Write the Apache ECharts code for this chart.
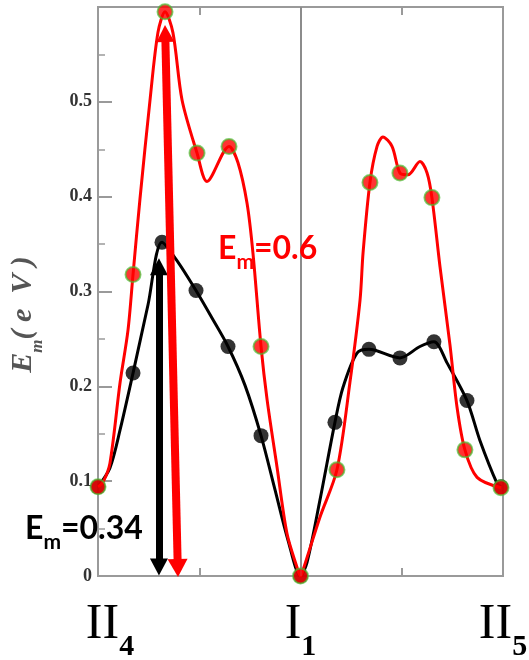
<!DOCTYPE html>
<html>
<head>
<meta charset="utf-8">
<script src="https://cdn.jsdelivr.net/npm/echarts@6/dist/echarts.min.js"></script>
<style>html,body{margin:0;padding:0;background:#fff}#c{width:529px;height:660px}</style>
</head>
<body>
<div id="c"></div>
<script>
// x positions: 0 = II4, 1 = I1, 2 = II5
const xTickLabels = ['II', 'I', 'II'];
const xTickSubs = ['4', '1', '5'];
const yTicks = [0, 0.1, 0.2, 0.3, 0.4, 0.5];

// marker points
const redMarkers = [[0,0.094],[0.173,0.318],[0.331,0.595],[0.489,0.446],[0.647,0.453],[0.805,0.242],[1,0],[1.180,0.112],[1.343,0.415],[1.491,0.425],[1.649,0.399],[1.812,0.133],[1.99,0.093]];
const blackMarkers = [[0,0.094],[0.173,0.214],[0.316,0.352],[0.484,0.301],[0.642,0.242],[0.805,0.148],[1,0],[1.170,0.162],[1.338,0.239],[1.491,0.230],[1.659,0.247],[1.822,0.185],[1.99,0.094]];

// traced curves
const redCurve = [[0,0.094],[0.025,0.099],[0.059,0.119],[0.109,0.204],[0.148,0.259],[0.173,0.318],[0.207,0.397],[0.257,0.502],[0.296,0.573],[0.331,0.595],[0.370,0.573],[0.415,0.502],[0.489,0.446],[0.538,0.416],[0.647,0.453],[0.691,0.436],[0.736,0.393],[0.765,0.341],[0.805,0.242],[0.835,0.186],[0.884,0.115],[0.933,0.045],[0.983,0.009],[1,0],[1.012,0.006],[1.096,0.062],[1.180,0.112],[1.244,0.204],[1.294,0.291],[1.309,0.341],[1.343,0.415],[1.378,0.453],[1.407,0.463],[1.452,0.453],[1.491,0.425],[1.531,0.423],[1.590,0.437],[1.625,0.425],[1.649,0.399],[1.689,0.326],[1.738,0.244],[1.773,0.178],[1.812,0.133],[1.872,0.104],[1.99,0.093]];
const blackCurve = [[0,0.094],[0.059,0.114],[0.109,0.154],[0.173,0.214],[0.247,0.286],[0.316,0.352],[0.395,0.331],[0.484,0.301],[0.563,0.272],[0.642,0.242],[0.726,0.201],[0.805,0.148],[0.874,0.091],[0.938,0.038],[1,0],[1.032,0.014],[1.096,0.080],[1.170,0.162],[1.210,0.199],[1.279,0.235],[1.338,0.239],[1.491,0.230],[1.590,0.242],[1.659,0.247],[1.723,0.225],[1.822,0.185],[1.886,0.143],[1.970,0.098],[1.99,0.094]];

// barrier arrows (data coords)
const blackArrow = [[0.301,0.0095],[0.301,0.326]];
const redArrow = [[0.394,0.0084],[0.332,0.572]];

const chart = echarts.init(document.getElementById('c'));
const axisGray = '#9a9a9a';
const serif = '"Liberation Serif","DejaVu Serif",serif';
const sans = 'Lato, "Liberation Sans", sans-serif';

chart.setOption({
  animation: false,
  backgroundColor: '#fff',
  grid: {left: 98, right: 26, top: 7, bottom: 84, show: true, borderColor: axisGray, borderWidth: 2, containLabel: false, outerBoundsMode: 'none'},
  xAxis: [{
    type: 'value', min: 0, max: 2, interval: 0.5, position: 'bottom',
    axisLine: {show: true, lineStyle: {color: axisGray, width: 2}},
    axisTick: {show: true, inside: true, length: 8, lineStyle: {color: axisGray, width: 2}},
    splitLine: {show: false},
    axisLabel: {
      margin: 24,
      formatter: function (v) {
        const i = Math.round(v);
        if (Math.abs(v - i) > 1e-6) return '';
        const pre = i === 0 ? '{p|}' : '';
        return pre + '{a|' + xTickLabels[i] + '}{s|' + xTickSubs[i] + '}';
      },
      rich: {
        p: {width: 24},
        a: {fontFamily: serif, fontSize: 50, color: '#000', lineHeight: 50, verticalAlign: 'top'},
        s: {fontFamily: serif, fontSize: 30, color: '#000', fontWeight: 'bold', lineHeight: 30, verticalAlign: 'bottom', padding: [0,0,-12,0]}
      }
    }
  }, {
    type: 'value', min: 0, max: 2, interval: 0.5, position: 'top',
    axisLine: {show: true, lineStyle: {color: axisGray, width: 2}},
    axisTick: {show: true, inside: true, length: 8, lineStyle: {color: axisGray, width: 2}},
    axisLabel: {show: false}, splitLine: {show: false}
  }],
  yAxis: {
    type: 'value', min: 0, max: 0.6, interval: 0.1,
    axisLine: {show: true, lineStyle: {color: axisGray, width: 2}},
    axisTick: {show: true, inside: true, length: 14, lineStyle: {color: axisGray, width: 2}},
    minorTick: {show: true, splitNumber: 2, length: 7, lineStyle: {color: axisGray, width: 1.5}},
    splitLine: {show: false},
    axisLabel: {
      margin: 6,
      fontFamily: serif, fontWeight: 'bold', fontSize: 18, color: '#333',
      formatter: function (v) {
        const t = yTicks.find(function (y) { return Math.abs(y - v) < 1e-6; });
        if (t === undefined) return '';
        return t === 0 ? '0' : t.toFixed(1);
      }
    },
    name: '{a|E}{s|m}{a|( e  V )}{q|}',
    nameLocation: 'middle', nameGap: 60, nameRotate: 90,
    nameTextStyle: {
      rich: {
        a: {fontFamily: serif, fontWeight: 'bold', fontStyle: 'italic', fontSize: 30, color: '#555'},
        s: {fontFamily: serif, fontWeight: 'bold', fontStyle: 'italic', fontSize: 17, color: '#555', verticalAlign: 'bottom', padding: [0,0,-8,0]},
        q: {width: 46}
      }
    }
  },
  series: [
    {
      type: 'line', data: blackCurve, smooth: 0.3, showSymbol: false, symbol: 'none',
      lineStyle: {color: '#000', width: 3}, z: 2,
      markLine: {
        silent: true, symbol: 'none', label: {show: false},
        lineStyle: {color: '#8c8c8c', width: 2, type: 'solid'},
        data: [{xAxis: 1}]
      }
    },
    {
      type: 'scatter', data: blackMarkers, symbolSize: 15,
      itemStyle: {color: '#000'}, z: 3
    },
    {
      type: 'line', data: redCurve, smooth: 0.3, showSymbol: false, symbol: 'none',
      lineStyle: {color: '#ff0000', width: 3}, z: 4
    },
    {
      type: 'scatter', data: redMarkers, symbolSize: 15, clip: false,
      itemStyle: {color: '#ff0000', borderColor: 'rgba(70,190,50,0.85)', borderWidth: 2}, z: 5
    },
    {
      type: 'line', data: [], clip: false, z: 6,
      markLine: {
        silent: true, label: {show: false}, symbol: ['triangle', 'triangle'], symbolSize: [18, 17],
        lineStyle: {type: 'solid'},
        data: [
          [{coord: blackArrow[0], lineStyle: {color: '#000', width: 7, type: 'solid'}, itemStyle: {color: '#000'}, symbolSize: [18, 17]},
           {coord: blackArrow[1]}],
          [{coord: redArrow[0], lineStyle: {color: '#ff0000', width: 8, type: 'solid'}, itemStyle: {color: '#ff0000'}, symbolSize: [20, 18]},
           {coord: redArrow[1]}]
        ]
      }
    }
  ],
  graphic: [
    {
      type: 'text', left: 218, top: 233, z: 100,
      style: {
        text: '{a|E}{s|m}{a|=0.6}',
        rich: {
          a: {fontFamily: sans, fontWeight: 'bold', fontSize: 32, fill: '#ff0000'},
          s: {fontFamily: sans, fontWeight: 'bold', fontSize: 21, fill: '#ff0000', verticalAlign: 'bottom', padding: [0,0,-8,0]}
        }
      }
    },
    {
      type: 'text', left: 25, top: 513, z: 100,
      style: {
        text: '{a|E}{s|m}{a|=0.34}',
        rich: {
          a: {fontFamily: sans, fontWeight: 'bold', fontSize: 32, fill: '#000'},
          s: {fontFamily: sans, fontWeight: 'bold', fontSize: 21, fill: '#000', verticalAlign: 'bottom', padding: [0,0,-8,0]}
        }
      }
    }
  ]
});
</script>
</body>
</html>
